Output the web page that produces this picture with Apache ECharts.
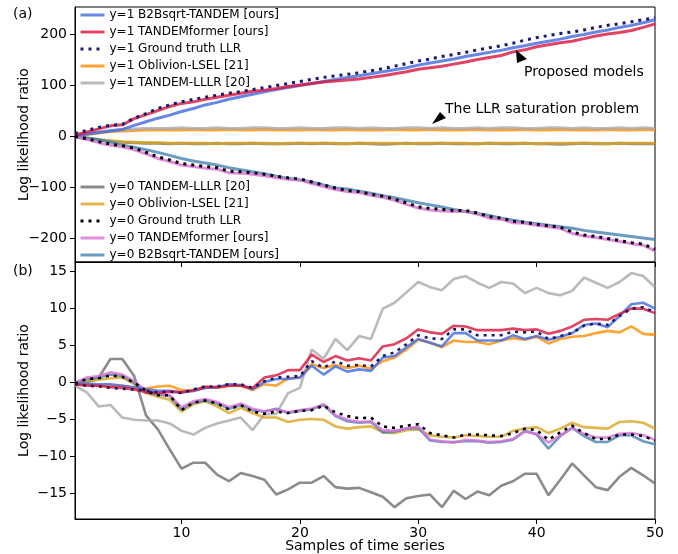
<!DOCTYPE html>
<html><head><meta charset="utf-8">
<script src="https://cdn.jsdelivr.net/npm/echarts@6/dist/echarts.min.js"></script>
<style>html,body{margin:0;padding:0;background:#fff}#c{width:678px;height:554px}</style>
</head><body><div id="c"></div><script>
const samples = [1,2,3,4,5,6,7,8,9,10,11,12,13,14,15,16,17,18,19,20,21,22,23,24,25,26,27,28,29,30,31,32,33,34,35,36,37,38,39,40,41,42,43,44,45,46,47,48,49,50];
const xTicks = [10,20,30,40,50];
const yTicksA = [-200,-100,0,100,200];
const yTicksB = [-15,-10,-5,0,5,10,15];

const names1 = ['y=1 B2Bsqrt-TANDEM [ours]','y=1 TANDEMformer [ours]','y=1 Ground truth LLR','y=1 Oblivion-LSEL [21]','y=1 TANDEM-LLLR [20]'];
const names0 = ['y=0 TANDEM-LLLR [20]','y=0 Oblivion-LSEL [21]','y=0 Ground truth LLR','y=0 TANDEMformer [ours]','y=0 B2Bsqrt-TANDEM [ours]'];

// Panel (a)
const a1_b2b = [2,5,8,11,14,22,29,36,42,49,55,62,67,73,78,83,88,92,96,100,104,108,112,116,119,123,127,131,135,140,144,148,152,157,161,165,169,174,178,183,187,191,196,200,205,209,214,218,223,229];
const a1_former = [3,9,15,21,23,35,43,51,59,65,68,73,77,81,85,89,91,94,98,101,104,107,109,111,113,116,119,123,127,132,135,138,142,146,151,155,159,166,170,176,180,184,187,192,197,201,204,208,214,221];
const a1_gt = [6,12,18,22,24,36,45,55,62,68,73,77,81,85,88,92,96,100,104,108,112,116,119,122,125,129,133,138,143,148,152,157,161,165,170,174,178,183,189,194,198,202,205,209,214,218,221,225,229,233];
const a1_obl = [0,4,7,10,11,12,13,13,13,13,14,13,13,14,13,13,14,13,13,13,14,13,13,14,13,13,13,14,13,13,14,13,13,13,14,13,13,13,14,13,13,14,13,13,13,14,13,13,14,13];
const a1_lllr = [0,5,9,12,14,15,16,16,16,17,16,16,17,16,16,17,17,16,16,17,16,16,17,17,16,17,16,16,17,17,16,17,16,16,17,16,17,17,16,16,17,17,16,17,16,16,17,16,17,16];
const a0_lllr = [0,-4,-7,-9,-11,-12,-13,-13,-14,-13,-14,-14,-13,-14,-14,-13,-14,-14,-14,-13,-14,-13,-14,-14,-13,-14,-15,-14,-13,-14,-14,-13,-14,-14,-14,-13,-14,-14,-13,-14,-14,-15,-14,-13,-14,-14,-13,-14,-14,-14];
const a0_obl = [0,-3,-6,-8,-10,-11,-12,-12,-13,-13,-13,-13,-14,-13,-13,-13,-13,-14,-13,-13,-13,-13,-13,-14,-13,-13,-13,-13,-14,-13,-13,-13,-13,-13,-14,-13,-13,-13,-13,-14,-13,-13,-13,-13,-13,-14,-13,-13,-13,-13];
const a0_gt = [0,-4,-10,-15,-18,-23,-31,-40,-46,-53,-56,-59,-61,-68,-69,-71,-74,-78,-81,-83,-89,-95,-101,-106,-108,-113,-117,-123,-130,-138,-141,-143,-145,-145,-150,-157,-160,-166,-168,-172,-175,-178,-187,-193,-196,-200,-204,-208,-211,-221];
const a0_former = [0,-6,-12,-17,-20,-26,-34,-43,-49,-56,-59,-62,-64,-71,-72,-74,-77,-81,-84,-85,-92,-98,-104,-108,-110,-115,-119,-125,-133,-140,-144,-146,-147,-147,-152,-160,-162,-169,-170,-174,-177,-180,-190,-195,-198,-202,-206,-210,-213,-224];
const a0_b2b = [0,-3,-6,-11,-17,-21,-26,-31,-37,-43,-48,-52,-56,-61,-65,-69,-73,-78,-82,-85,-89,-95,-101,-103,-107,-111,-116,-120,-125,-130,-134,-138,-143,-147,-151,-155,-160,-164,-168,-171,-174,-177,-180,-184,-187,-190,-193,-196,-199,-202];

// Panel (b)
const b1_former = [-0.3,-0.5,-0.5,-0.7,-0.8,-1.0,-1.4,-1.5,-1.3,-1.4,-1.1,-0.7,-0.7,-0.5,-0.5,-0.8,0.6,0.9,1.6,1.6,3.7,2.7,3.5,2.9,3.2,2.9,4.8,5.1,5.9,7.1,6.7,6.5,7.6,7.5,7.0,7.0,7.0,7.2,7.0,7.1,6.5,6.9,7.5,8.4,8.5,8.4,9.2,9.9,9.9,9.3];
const b1_b2b = [-0.3,-0.2,-0.3,-0.3,-0.5,-0.7,-1.0,-1.2,-1.2,-1.4,-1.2,-0.8,-0.7,-0.3,-0.4,-1.0,0.0,0.4,0.4,0.6,2.2,1.0,2.1,1.4,1.7,1.5,3.3,3.5,4.7,5.8,5.3,4.8,6.6,6.6,5.6,5.6,5.6,6.3,5.8,6.2,5.7,6.1,6.6,7.7,7.9,7.4,8.9,10.5,10.7,9.9];
const b1_gt = [-0.3,-0.5,-0.6,-0.8,-0.9,-1.0,-1.2,-1.4,-1.3,-1.5,-1.0,-0.6,-0.6,-0.3,-0.3,-0.8,0.1,0.6,0.7,0.8,2.8,1.9,2.8,2.2,2.3,2.1,3.5,4.0,5.1,6.3,5.9,5.8,7.1,7.1,6.3,6.3,6.3,6.8,6.7,6.8,5.8,6.2,6.6,7.6,7.9,7.7,8.9,9.9,10.1,9.4];
const b1_obl = [-0.3,-0.3,-0.5,-0.5,-0.5,-0.8,-0.9,-0.6,-0.5,-1.1,-1.2,-0.6,-0.8,-0.5,-0.5,-1.1,-0.3,-0.5,0.5,0.6,2.4,1.9,2.3,1.9,2.2,1.8,2.8,3.3,4.4,5.7,5.3,4.7,5.6,5.4,5.4,5.1,5.6,5.9,5.7,6.1,5.2,5.8,6.1,6.2,6.6,6.9,6.7,7.5,6.5,6.4];
const b1_lllr = [-0.5,-1.4,-3.3,-3.1,-4.8,-5.1,-5.2,-5.2,-5.6,-6.6,-7.1,-6.2,-5.6,-5.2,-4.8,-6.5,-4.4,-4.3,-1.5,-0.8,4.4,3.1,5.8,4.3,6.2,5.8,9.9,10.7,12.1,13.5,12.8,12.4,13.9,14.3,13.4,12.7,13.5,13.3,12.0,12.7,12.0,11.7,12.3,14.1,13.4,12.7,13.5,14.7,14.3,12.8];
const b0_lllr = [-0.1,0.0,0.6,3.1,3.1,0.8,-4.5,-6.4,-9.1,-11.7,-10.9,-10.9,-12.5,-13.4,-12.3,-12.7,-13.2,-15.2,-14.5,-13.6,-13.6,-12.7,-14.2,-14.4,-14.3,-14.9,-15.5,-16.9,-15.7,-15.4,-15.2,-16.9,-14.7,-15.8,-14.8,-15.3,-14.0,-13.4,-12.4,-12.4,-15.3,-13.2,-11.0,-12.6,-14.2,-14.6,-12.8,-11.6,-12.6,-13.7];
const b0_obl = [-0.3,0.0,0.3,0.5,0.6,-0.3,-1.5,-2.0,-2.4,-4.0,-3.0,-2.6,-3.3,-4.2,-3.5,-4.2,-4.8,-4.8,-5.4,-5.1,-5.0,-5.1,-6.0,-6.3,-6.1,-6.0,-6.8,-6.9,-6.5,-6.4,-7.2,-7.4,-7.5,-7.2,-7.3,-7.4,-7.4,-6.6,-6.3,-6.1,-6.9,-6.3,-5.5,-6.1,-6.2,-6.3,-5.4,-5.3,-5.5,-6.3];
const b0_gt = [-0.2,0.4,0.5,0.9,0.7,-0.1,-1.2,-1.8,-1.8,-3.8,-2.8,-2.5,-2.9,-3.7,-3.1,-4.0,-4.3,-4.0,-4.2,-3.9,-3.8,-3.2,-4.1,-4.6,-4.9,-4.8,-6.0,-6.2,-5.9,-5.7,-6.9,-7.2,-7.5,-7.1,-7.1,-7.2,-7.3,-6.9,-6.3,-6.5,-7.8,-6.8,-5.9,-6.9,-7.7,-7.7,-7.1,-7.1,-7.3,-7.9];
const b0_former = [-0.1,0.6,0.8,1.3,1.0,0.1,-1.2,-1.5,-1.8,-3.4,-2.6,-2.3,-2.7,-3.4,-2.9,-3.6,-4.0,-3.7,-4.1,-3.8,-3.6,-3.0,-4.5,-5.1,-5.4,-5.3,-6.5,-6.6,-6.3,-6.0,-7.8,-8.0,-8.2,-7.8,-7.9,-8.1,-8.0,-7.7,-6.7,-7.0,-8.2,-7.2,-6.2,-7.0,-7.5,-7.5,-7.0,-6.9,-7.2,-7.8];
const b0_b2b = [-0.2,0.4,0.6,1.0,0.8,-0.1,-1.4,-1.7,-1.9,-3.7,-2.8,-2.5,-2.9,-3.6,-3.1,-3.8,-4.0,-3.6,-4.2,-3.9,-3.7,-3.1,-4.6,-5.3,-5.5,-5.4,-6.8,-6.7,-6.3,-6.2,-7.9,-8.1,-8.1,-8.0,-8.0,-8.2,-8.1,-7.8,-6.6,-7.1,-9.0,-7.3,-6.2,-7.3,-8.1,-8.1,-7.2,-7.2,-8.0,-8.4];

const FONT = 'DejaVu Sans';
const minus = v => String(v).replace('-', '\u2212');

const styles = {
  'y=1 B2Bsqrt-TANDEM [ours]': {color:'#4169E1'},
  'y=1 TANDEMformer [ours]': {color:'#DC143C'},
  'y=1 Ground truth LLR': {color:'#191970', dotted:true},
  'y=1 Oblivion-LSEL [21]': {color:'#FF8C00'},
  'y=1 TANDEM-LLLR [20]': {color:'#A9A9A9'},
  'y=0 TANDEM-LLLR [20]': {color:'#6e6e6e'},
  'y=0 Oblivion-LSEL [21]': {color:'#DAA520'},
  'y=0 Ground truth LLR': {color:'#000000', dotted:true},
  'y=0 TANDEMformer [ours]': {color:'#DA70D6'},
  'y=0 B2Bsqrt-TANDEM [ours]': {color:'#4682B4'}
};

function mk(name, arr, gi, width, z) {
  const st = styles[name];
  return {
    name, type:'line', xAxisIndex:gi, yAxisIndex:gi, symbol:'none', showSymbol:false,
    animation:false, silent:true, z:z,
    itemStyle:{color:st.color},
    lineStyle:{color:st.color, width: width, opacity: st.dotted ? 1 : 0.8, type: st.dotted ? [3,5] : 'solid', cap:'butt'},
    emphasis:{disabled:true},
    data: samples.map((x,i)=>[x, arr[i]])
  };
}

const seriesA = [
  ['y=0 TANDEM-LLLR [20]', a0_lllr], ['y=0 Oblivion-LSEL [21]', a0_obl],
  ['y=1 Oblivion-LSEL [21]', a1_obl], ['y=1 TANDEM-LLLR [20]', a1_lllr],
  ['y=0 B2Bsqrt-TANDEM [ours]', a0_b2b], ['y=0 TANDEMformer [ours]', a0_former],
  ['y=1 B2Bsqrt-TANDEM [ours]', a1_b2b], ['y=1 TANDEMformer [ours]', a1_former],
  ['y=0 Ground truth LLR', a0_gt], ['y=1 Ground truth LLR', a1_gt]
];
const seriesB = [
  ['y=0 TANDEM-LLLR [20]', b0_lllr], ['y=1 TANDEM-LLLR [20]', b1_lllr],
  ['y=0 Oblivion-LSEL [21]', b0_obl], ['y=1 Oblivion-LSEL [21]', b1_obl],
  ['y=0 B2Bsqrt-TANDEM [ours]', b0_b2b], ['y=0 TANDEMformer [ours]', b0_former],
  ['y=1 B2Bsqrt-TANDEM [ours]', b1_b2b], ['y=1 TANDEMformer [ours]', b1_former],
  ['y=0 Ground truth LLR', b0_gt], ['y=1 Ground truth LLR', b1_gt]
];
const series = [];
seriesA.forEach((s,i)=>series.push(mk(s[0], s[1], 0, 3, 2+i)));
seriesB.forEach((s,i)=>series.push(mk(s[0], s[1], 1, 2.6, 2+i)));

const axisTxt = {fontFamily:FONT, fontSize:14, color:'#000'};
function xAx(gi, showLabels) {
  return {
    gridIndex:gi, type:'value', min:1, max:50,
    axisLine:{show:true, onZero:false, lineStyle:{color:'#000', width:1}},
    axisTick:{show:true, customValues:xTicks, length:5, lineStyle:{color:'#000'}},
    axisLabel:{show:showLabels, customValues:xTicks, margin:7, ...axisTxt},
    splitLine:{show:false},
    name: showLabels ? 'Samples of time series' : '', nameLocation:'middle', nameGap:20,
    nameMoveOverlap:false, nameTextStyle:axisTxt
  };
}
function yAx(gi, min, max, ticks) {
  return {
    gridIndex:gi, type:'value', min, max,
    axisLine:{show:true, onZero:false, lineStyle:{color:'#000', width:1}},
    axisTick:{show:true, customValues:ticks, length:5, lineStyle:{color:'#000'}},
    axisLabel:{show:true, customValues:ticks, margin:8, formatter:minus, ...axisTxt},
    splitLine:{show:false},
    name:'Log likelihood ratio', nameLocation:'middle', nameGap:44, nameMoveOverlap:false, nameTextStyle:axisTxt
  };
}

const legTxt = {fontFamily:FONT, fontSize:12, color:'#000', lineHeight:14};
const legCommon = {orient:'vertical', left:79, itemWidth:24, itemHeight:14, itemGap:3, textStyle:legTxt,
  selectedMode:false, padding:0, itemStyle:{opacity:0, borderWidth:0}, lineStyle:{width:3}};
const option = {
  animation:false,
  backgroundColor:'#fff',
  grid:[
    {left:75, top:7, width:580, height:255, show:true, borderColor:'#000', borderWidth:1, backgroundColor:'transparent'},
    {left:75, top:262, width:580, height:257, show:true, borderColor:'#000', borderWidth:1, backgroundColor:'transparent'}
  ],
  xAxis:[xAx(0,false), xAx(1,true)],
  yAxis:[yAx(0,-246,254,yTicksA), yAx(1,-18.5,16.2,yTicksB)],
  legend:[
    Object.assign({data:names1, top:8}, legCommon),
    Object.assign({data:names0, top:180}, legCommon)
  ],
  series,
  graphic:[
    {type:'text', left:13, top:7, style:{text:'(a)', font:'14px "DejaVu Sans"', fill:'#000'}},
    {type:'text', left:13, top:264, style:{text:'(b)', font:'14px "DejaVu Sans"', fill:'#000'}},
    {type:'text', style:{x:524, y:72, text:'Proposed models', font:'14px "DejaVu Sans"', fill:'#000', verticalAlign:'middle', align:'left'}, z:20},
    {type:'text', style:{x:445, y:109, text:'The LLR saturation problem', font:'14px "DejaVu Sans"', fill:'#000', verticalAlign:'middle', align:'left'}, z:20},
    {type:'polygon', shape:{points:[[516,50],[517,63],[527,59]]}, style:{fill:'#000'}, z:20},
    {type:'polygon', shape:{points:[[432,124],[440,112],[446,118]]}, style:{fill:'#000'}, z:20}
  ]
};
const chart = echarts.init(document.getElementById('c'), null, {renderer:'canvas'});
chart.setOption(option);
</script></body></html>
